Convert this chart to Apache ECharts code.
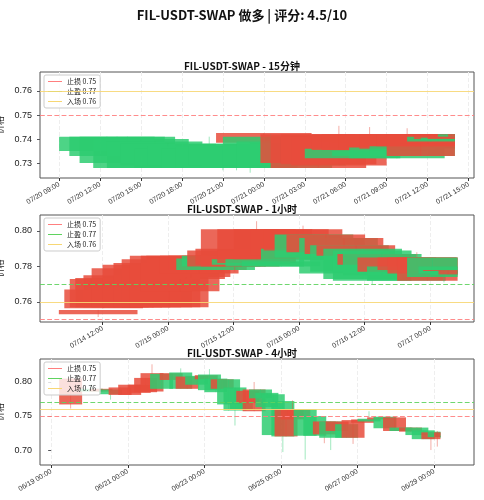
<!DOCTYPE html>
<html>
<head>
<meta charset="utf-8">
<script src="https://cdn.jsdelivr.net/npm/echarts@6/dist/echarts.min.js"></script>
<style>
  html, body { margin: 0; padding: 0; background: #fff; }
  #chart { width: 484px; height: 500px; }
</style>
</head>
<body>
<div id="chart"></div>
<script>
// candles: [start, open, close, low, high]
const candles15m = [
  ['07/20 09:00', 0.735, 0.741], ['07/20 09:45', 0.733, 0.741], ['07/20 10:30', 0.730, 0.741],
  ['07/20 11:30', 0.728, 0.740], ['07/20 12:30', 0.728, 0.739], ['07/20 13:30', 0.729, 0.738],
  ['07/20 14:30', 0.728, 0.736], ['07/20 15:30', 0.729, 0.737], ['07/20 16:30', 0.728, 0.736, 0.728, 0.741],
  ['07/20 17:30', 0.728, 0.737, 0.727, 0.737], ['07/20 18:30', 0.729, 0.738, 0.727, 0.738],
  ['07/20 19:30', 0.728, 0.738, 0.726, 0.739], ['07/20 20:30', 0.7425, 0.7385],
  ['07/20 21:00', 0.729, 0.741, 0.728, 0.742], ['07/20 22:00', 0.728, 0.739], ['07/20 23:00', 0.729, 0.7385],
  ['07/20 23:45', 0.742, 0.730], ['07/21 00:30', 0.741, 0.728], ['07/21 01:15', 0.742, 0.7295],
  ['07/21 02:00', 0.741, 0.729, 0.729, 0.7455], ['07/21 03:00', 0.732, 0.736], ['07/21 03:30', 0.742, 0.7355],
  ['07/21 04:15', 0.742, 0.7355, 0.735, 0.745], ['07/21 05:00', 0.733, 0.735], ['07/21 05:30', 0.742, 0.7355],
  ['07/21 06:15', 0.732, 0.7365], ['07/21 07:00', 0.742, 0.736, 0.736, 0.7445], ['07/21 07:45', 0.733, 0.737],
  ['07/21 08:15', 0.742, 0.737], ['07/21 09:00', 0.742, 0.733], ['07/21 10:00', 0.742, 0.738],
  ['07/21 10:30', 0.739, 0.741], ['07/21 11:00', 0.742, 0.740], ['07/21 11:30', 0.7395, 0.7405],
  ['07/21 12:00', 0.742, 0.740], ['07/21 12:45', 0.741, 0.742], ['07/21 13:30', 0.742, 0.741]
];
const candles1h = [
  ['07/14 04:00', 0.7555, 0.753, 0.7515, 0.7555], ['07/14 05:00', 0.767, 0.7565], ['07/14 06:00', 0.773, 0.757],
  ['07/14 07:00', 0.7735, 0.757], ['07/14 08:30', 0.775, 0.757], ['07/14 10:00', 0.779, 0.757],
  ['07/14 12:00', 0.781, 0.757, 0.757, 0.7845], ['07/14 14:00', 0.782, 0.757], ['07/14 15:30', 0.784, 0.757],
  ['07/14 17:00', 0.786, 0.757], ['07/14 19:00', 0.786, 0.766], ['07/14 20:00', 0.786, 0.773],
  ['07/14 21:00', 0.785, 0.774], ['07/14 22:30', 0.786, 0.776, 0.776, 0.789], ['07/15 00:00', 0.786, 0.778],
  ['07/15 01:30', 0.778, 0.7845], ['07/15 02:30', 0.780, 0.786], ['07/15 03:30', 0.789, 0.780],
  ['07/15 05:00', 0.790, 0.781, 0.777, 0.793], ['07/15 06:00', 0.801, 0.780], ['07/15 08:00', 0.781, 0.784],
  ['07/15 09:00', 0.801, 0.782, 0.782, 0.8055], ['07/15 10:30', 0.780, 0.784], ['07/15 12:00', 0.801, 0.784],
  ['07/15 13:30', 0.780, 0.783], ['07/15 15:00', 0.801, 0.786], ['07/15 17:00', 0.7835, 0.790],
  ['07/15 17:30', 0.801, 0.789, 0.789, 0.803], ['07/15 19:30', 0.785, 0.798], ['07/15 21:40', 0.798, 0.788],
  ['07/16 00:00', 0.776, 0.796], ['07/16 01:00', 0.796, 0.787], ['07/16 02:00', 0.777, 0.792],
  ['07/16 03:10', 0.792, 0.786], ['07/16 04:25', 0.773, 0.790], ['07/16 06:10', 0.772, 0.789, 0.770, 0.789],
  ['07/16 07:00', 0.787, 0.781], ['07/16 08:00', 0.775, 0.787, 0.775, 0.788], ['07/16 10:40', 0.785, 0.777],
  ['07/16 12:25', 0.772, 0.780], ['07/16 14:20', 0.785, 0.778, 0.778, 0.788], ['07/16 16:10', 0.785, 0.776],
  ['07/16 17:55', 0.785, 0.772], ['07/16 19:45', 0.774, 0.785], ['07/16 21:50', 0.776, 0.780],
  ['07/16 22:40', 0.778, 0.7775], ['07/17 00:00', 0.775, 0.7775, 0.771, 0.7775], ['07/17 01:30', 0.7775, 0.7755]
];
const candles4h = [
  ['06/19 05:00', 0.805, 0.767, 0.761, 0.805], ['06/19 18:00', 0.786, 0.790, 0.786, 0.797],
  ['06/20 00:00', 0.790, 0.786], ['06/20 06:00', 0.782, 0.789, 0.774, 0.789], ['06/20 12:00', 0.792, 0.781],
  ['06/20 18:00', 0.796, 0.781], ['06/21 00:00', 0.796, 0.784], ['06/21 04:00', 0.806, 0.785],
  ['06/21 08:00', 0.813, 0.786, 0.786, 0.826], ['06/21 14:00', 0.790, 0.812], ['06/21 20:00', 0.813, 0.803],
  ['06/22 02:00', 0.790, 0.814, 0.790, 0.820], ['06/22 06:00', 0.808, 0.790], ['06/22 12:00', 0.796, 0.809],
  ['06/22 18:00', 0.810, 0.804], ['06/22 20:00', 0.788, 0.811, 0.788, 0.819], ['06/23 00:00', 0.785, 0.805],
  ['06/23 04:00', 0.804, 0.790], ['06/23 08:00', 0.767, 0.804, 0.758, 0.804], ['06/23 12:00', 0.758, 0.792, 0.736, 0.792],
  ['06/23 16:00', 0.760, 0.770], ['06/23 20:00', 0.787, 0.769], ['06/24 00:00', 0.789, 0.757, 0.757, 0.800],
  ['06/24 04:00', 0.776, 0.789], ['06/24 08:00', 0.763, 0.784], ['06/24 12:00', 0.722, 0.782],
  ['06/24 18:00', 0.720, 0.772, 0.697, 0.772], ['06/24 20:00', 0.760, 0.720], ['06/25 00:00', 0.760, 0.745, 0.745, 0.773],
  ['06/25 04:00', 0.760, 0.750], ['06/25 08:00', 0.721, 0.760, 0.686, 0.760], ['06/25 14:00', 0.721, 0.750],
  ['06/25 20:00', 0.742, 0.723, 0.710, 0.742], ['06/26 00:00', 0.718, 0.742, 0.700, 0.742], ['06/26 04:00', 0.742, 0.728],
  ['06/26 10:00', 0.718, 0.738], ['06/26 14:00', 0.744, 0.718, 0.709, 0.744], ['06/26 20:00', 0.745, 0.740],
  ['06/27 00:00', 0.742, 0.746, 0.742, 0.757], ['06/27 06:00', 0.748, 0.745], ['06/27 10:00', 0.732, 0.749],
  ['06/27 16:00', 0.748, 0.728], ['06/27 20:00', 0.728, 0.733], ['06/28 02:00', 0.733, 0.727],
  ['06/28 06:00', 0.722, 0.733], ['06/28 10:00', 0.716, 0.729], ['06/28 16:00', 0.726, 0.716, 0.700, 0.726],
  ['06/28 20:00', 0.719, 0.727], ['06/29 00:00', 0.726, 0.719, 0.705, 0.728], ['06/29 04:00', 0.718, 0.721]
];
const levels = { stop: 0.751, target: 0.766, entry: 0.7565 };
const levelNames = ['止损 0.75', '止盈 0.77', '入场 0.76'];

// panel settings: base date (hours counted from it), visible range, candle width (hours), clip end
const panels = [
  { title: 'FIL-USDT-SWAP - 15分钟', data: candles15m, base: [7, 20], min: 7.6, max: 39.4, w: 7, end: 38,
    ticks: [9, 12, 15, 18, 21, 24, 27, 30, 33, 36, 39], yMin: 0.7238, yMax: 0.7679, yTicks: [0.73, 0.74, 0.75, 0.76], top: 72, h: 106 },
  { title: 'FIL-USDT-SWAP - 1小时', data: candles1h, base: [7, 14], min: 0.55, max: 80, w: 14.4, end: 77,
    ticks: [12, 24, 36, 48, 60, 72], yMin: 0.7487, yMax: 0.809, yTicks: [0.76, 0.78, 0.80], top: 215, h: 107 },
  { title: 'FIL-USDT-SWAP - 4小时', data: candles4h, base: [6, 19], min: -7, max: 265, w: 14.4, end: 244,
    ticks: [0, 48, 96, 144, 192, 240], yMin: 0.678, yMax: 0.8338, yTicks: [0.70, 0.75, 0.80], top: 359, h: 106 }
];

const pad = n => (n < 10 ? '0' : '') + n;
function toHours (s, base) {
  const [md, hm] = s.split(' ');
  const [m, d] = md.split('/').map(Number);
  const [hh, mm] = hm.split(':').map(Number);
  const days = (m === base[0] ? d : d + 30) - base[1];
  return days * 24 + hh + mm / 60;
}
function labelFor (v, base) {
  const day = base[1] + Math.floor(v / 24);
  return pad(base[0]) + '/' + pad(day) + ' ' + pad(((v % 24) + 24) % 24) + ':00';
}

const GREEN = '#2ecc71', RED = '#e74c3c';
const option = {
  animation: false,
  title: [{ text: 'FIL-USDT-SWAP 做多 | 评分: 4.5/10', left: 'center', top: 4,
    textStyle: { fontSize: 13, fontWeight: 'bold', color: '#111', fontFamily: 'Noto Sans CJK SC' } }],
  grid: [], xAxis: [], yAxis: [], series: [], legend: []
};

panels.forEach((p, i) => {
  // invisible suffix keeps each panel's legend tied to its own series
  const names = levelNames.map(n => n + '\u200b'.repeat(i));
  option.title.push({ text: p.title, left: 'center', top: p.top - 16,
    textStyle: { fontSize: 10, fontWeight: 'bold', color: '#111', fontFamily: 'Noto Sans CJK SC' } });
  option.grid.push({ left: 40, right: 10, top: p.top, height: p.h, show: true, borderColor: '#555', borderWidth: 1,
    containLabel: false, outerBoundsMode: 'none' });
  option.xAxis.push({
    type: 'value', gridIndex: i, min: p.min, max: p.max,
    axisLine: { show: false },
    axisTick: { show: true, customValues: p.ticks, length: 3, lineStyle: { color: '#333' } },
    axisLabel: { customValues: p.ticks, rotate: 30, fontSize: 7, color: '#333', margin: 6,
      formatter: v => labelFor(v, p.base) },
    splitLine: { show: true, lineStyle: { color: '#eee', type: 'dashed' } }
  });
  option.yAxis.push({
    type: 'value', gridIndex: i, min: p.yMin, max: p.yMax, name: '价格', nameLocation: 'middle', nameGap: 28,
    nameTextStyle: { fontSize: 9, color: '#222', fontFamily: 'Noto Sans CJK SC' },
    axisLine: { show: false }, axisTick: { show: true, customValues: p.yTicks, length: 3 },
    axisLabel: { customValues: p.yTicks, fontSize: 9, color: '#222', formatter: v => v.toFixed(2) },
    splitLine: { show: false }
  });
  const rows = p.data.map(r => {
    const o = r[1], c = r[2];
    const l = r[3] != null ? r[3] : Math.min(o, c);
    const h = r[4] != null ? r[4] : Math.max(o, c);
    return [toHours(r[0], p.base), o, c, l, h];
  });
  option.series.push({
    type: 'custom', xAxisIndex: i, yAxisIndex: i, data: rows, clip: true,
    renderItem: (params, api) => {
      const s = api.value(0), o = api.value(1), c = api.value(2), l = api.value(3), h = api.value(4);
      const e = Math.min(s + p.w, p.end);
      const col = c >= o ? GREEN : RED;
      const a = api.coord([s, Math.max(o, c)]);
      const b = api.coord([e, Math.min(o, c)]);
      const wx = api.coord([(s + e) / 2, 0])[0];
      return { type: 'group', children: [
        { type: 'rect', shape: { x: a[0], y: a[1], width: b[0] - a[0], height: Math.max(b[1] - a[1], 1) },
          style: { fill: col, opacity: 0.85 } },
        { type: 'line', shape: { x1: wx, y1: api.coord([0, h])[1], x2: wx, y2: api.coord([0, l])[1] },
          style: { stroke: col, lineWidth: 1, opacity: 0.45 } }
      ] };
    }
  });
  const lvl = [
    [names[0], levels.stop, '#ff7f7f', 'dashed'],
    [names[1], levels.target, '#5fd35f', 'dashed'],
    [names[2], levels.entry, '#f7d774', 'solid']
  ];
  lvl.forEach(([name, y, color, type]) => {
    option.series.push({
      type: 'line', name, xAxisIndex: i, yAxisIndex: i, data: [], symbol: 'none', color,
      lineStyle: { color, type, width: 1.2 }, itemStyle: { color },
      markLine: { silent: true, symbol: 'none', label: { show: false },
        lineStyle: { color, type, width: 1.2, opacity: 0.9 }, data: [{ yAxis: y }] }
    });
  });
  option.legend.push({
    data: names, orient: 'vertical', left: 44, top: p.top + 3, itemWidth: 14, itemHeight: 6, itemGap: 3,
    icon: 'path://M0,0 L14,0 L14,1 L0,1 Z',
    backgroundColor: 'rgba(255,255,255,0.8)', borderColor: '#ccc', borderWidth: 1, borderRadius: 2, padding: [3, 4],
    textStyle: { fontSize: 7, color: '#222', fontFamily: 'Noto Sans CJK SC' }
  });
});

const chart = echarts.init(document.getElementById('chart'));
chart.setOption(option);
</script>
</body>
</html>
